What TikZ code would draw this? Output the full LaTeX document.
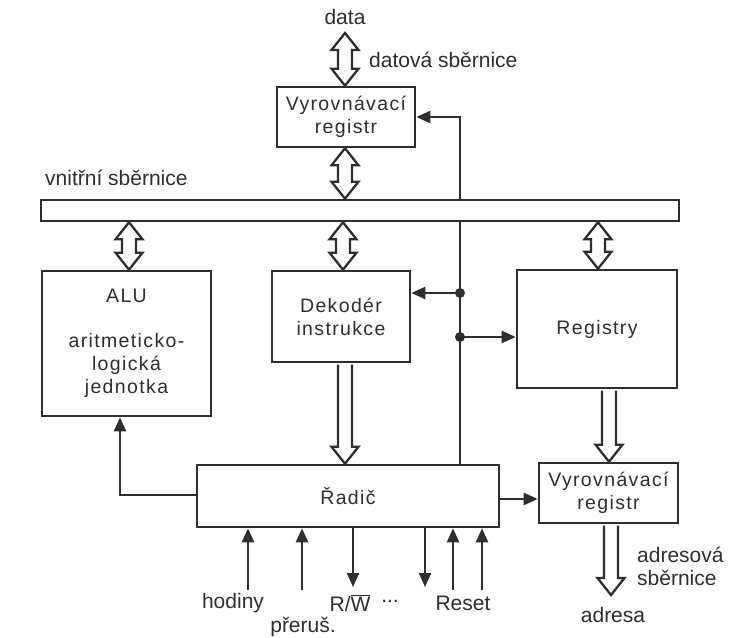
\documentclass[tikz,border=0pt]{standalone}
\usepackage{fontspec}
\setmainfont{Liberation Sans}
\newfontfamily\boxfont[LetterSpace=7]{Liberation Sans}
\usetikzlibrary{arrows.meta,calc}
\definecolor{ink}{HTML}{2E2E2E}
\tikzset{
  blk/.style={draw=ink, line width=2.6pt, fill=white, inner sep=0pt, text=ink, align=center,
              font=\boxfont\fontsize{19.5}{23}\selectfont},
  lbl/.style={text=ink, inner sep=0pt, font=\fontsize{21}{25}\selectfont},
  sig/.style={draw=ink, line width=2.3pt, -{Triangle[length=14pt,width=12pt]}},
  hollow/.style={draw=ink, line width=2.3pt, fill=white, line join=miter},
  dot/.style={circle, fill=ink, inner sep=0pt, minimum size=10pt}
}
\newcommand\busbi[2]{%
  \path[hollow] let \p1=#1, \p2=#2 in
   (\x1,\y1) -- (\x1+13.5pt,\y1-17pt) -- (\x1+7pt,\y1-17pt) -- (\x1+7pt,\y2+17pt)
   -- (\x1+13.5pt,\y2+17pt) -- (\x1,\y2) -- (\x1-13.5pt,\y2+17pt) -- (\x1-7pt,\y2+17pt)
   -- (\x1-7pt,\y1-17pt) -- (\x1-13.5pt,\y1-17pt) -- cycle;}
\newcommand\busdn[2]{%
  \path[hollow] let \p1=#1, \p2=#2 in
   (\x1-7pt,\y1-1.3pt) -- (\x1-7pt,\y2+17pt) -- (\x1-13.5pt,\y2+17pt) -- (\x1,\y2)
   -- (\x1+13.5pt,\y2+17pt) -- (\x1+7pt,\y2+17pt) -- (\x1+7pt,\y1-1.3pt);}
\begin{document}
\begin{tikzpicture}[x=1pt,y=-1pt]
\useasboundingbox[fill=white] (0,0) rectangle (744,637);

% blocks
\node[blk, minimum width=138pt, minimum height=60pt] (vr1) at (346,117) {Vyrovnávací\\registr};
\node[blk, minimum width=169pt, minimum height=145pt] (alu) at (126.5,343.5)
  {ALU\\[22pt]aritmeticko-\\logická\\jednotka};
\node[blk, minimum width=138pt, minimum height=91pt] (dek) at (341,316.5) {Dekodér\\instrukce};
\node[blk, minimum width=160pt, minimum height=118pt] (reg) at (597,329) {Registry};
\node[blk, minimum width=302pt, minimum height=62pt] (radic) at (348,496) {Řadič};
\node[blk, minimum width=139pt, minimum height=60pt] (vr2) at (608.5,493) {Vyrovnávací\\registr};

% feedback line from controller to top register
\coordinate (fb) at (460,0);
\draw[sig] (radic.north -| fb) |- (vr1.east);
\node[dot] (d1) at (460,293) {};
\node[dot] (d2) at (460,337) {};
\draw[sig] (d1.center) -- (d1.center -| dek.east);
\draw[sig] (d2.center) -- (d2.center -| reg.west);

% internal bus
\node[draw=ink, line width=2.6pt, fill=white, minimum width=638pt, minimum height=21pt,
      inner sep=0pt] (bus) at (360,210.5) {};

% labels
\node[lbl] (data) at (345,17) {data};
\node[lbl, anchor=west] (dsb) at (369,60) {datová sběrnice};
\node[lbl, anchor=west] (vsb) at (45,178) {vnitřní sběrnice};

% hollow bus arrows
\coordinate (dtop) at (345,33);
\busbi{(dtop)}{(vr1.north -| dtop)}
\busbi{(vr1.south -| dtop)}{(bus.north -| dtop)}
\coordinate (xa) at (129,0);
\busbi{(bus.south -| xa)}{(alu.north -| xa)}
\coordinate (xd) at (343,0);
\busbi{(bus.south -| xd)}{(dek.north -| xd)}
\coordinate (xr) at (598,0);
\busbi{(bus.south -| xr)}{(reg.north -| xr)}
\coordinate (xk) at (345,0);
\busdn{(dek.south -| xk)}{(radic.north -| xk)}
\coordinate (xv) at (609,0);
\busdn{(reg.south -| xv)}{(vr2.north -| xv)}
\coordinate (xo) at (611,595);
\busdn{(vr2.south -| xo)}{(xo)}

% controller to ALU and to address register
\coordinate (c1) at (120,495);
\draw[sig] (c1 -| radic.west) -- (c1) -- (c1 |- alu.south);
\coordinate (c2) at (0,499);
\draw[sig] (c2 -| radic.east) -- (c2 -| vr2.west);

% control signals
\coordinate (s1) at (248,590);
\coordinate (s2) at (302,590);
\coordinate (s3) at (353,587);
\coordinate (s4) at (425,587);
\coordinate (s5) at (453,590);
\coordinate (s6) at (482,590);
\draw[sig] (s1) -- (s1 |- radic.south);
\draw[sig] (s2) -- (s2 |- radic.south);
\draw[sig] (s3 |- radic.south) -- (s3);
\draw[sig] (s4 |- radic.south) -- (s4);
\draw[sig] (s5) -- (s5 |- radic.south);
\draw[sig] (s6) -- (s6 |- radic.south);

\node[lbl] (hod) at (233,603) {hodiny};
\node[lbl] (pre) at (303,627) {přeruš.};
\node[lbl] (rw) at (350,603) {R/$\overline{\mbox{W}}$};
\node[lbl] (dots) at (390,601) {...};
\node[lbl] (rst) at (463,603) {Reset};
\node[lbl, anchor=west] (adr1) at (637,555) {adresová};
\node[lbl, anchor=west] (adr2) at (637,578) {sběrnice};
\node[lbl] (adr) at (613,615) {adresa};
\end{tikzpicture}
\end{document}
